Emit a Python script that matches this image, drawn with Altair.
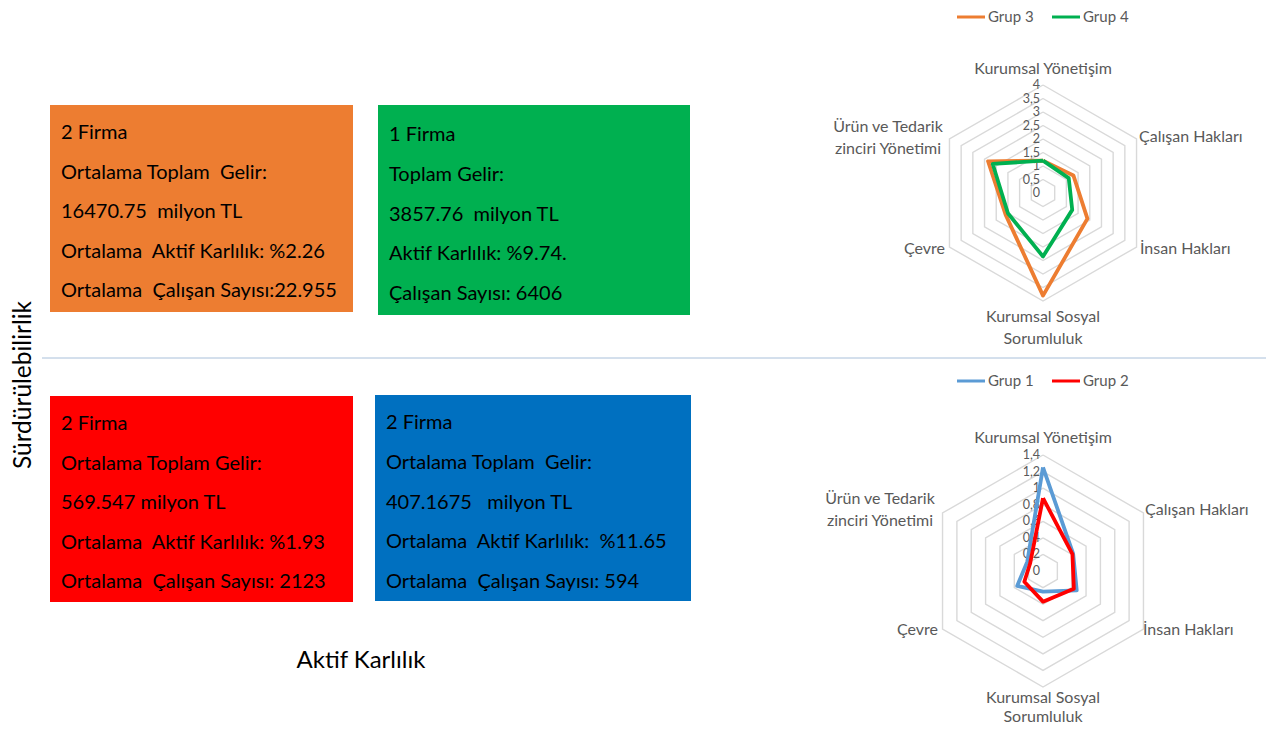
import altair as alt
import pandas as pd

# ---------------- data ----------------
categories = ["Kurumsal Yönetişim", "Çalışan Hakları", "İnsan Hakları",
              "Kurumsal Sosyal Sorumluluk", "Çevre", "Ürün ve Tedarik zinciri Yönetimi"]
grup3 = [1.2, 1.3, 1.9, 3.8, 1.6, 2.35]
grup4 = [1.2, 1.1, 1.25, 2.35, 1.5, 2.15]
grup1 = [1.25, 0.42, 0.47, 0.25, 0.36, 0.22]
grup2 = [0.88, 0.41, 0.43, 0.37, 0.26, 0.18]

ticks_top = [0, 0.5, 1, 1.5, 2, 2.5, 3, 3.5, 4]
tick_labels_top = ["0", "0,5", "1", "1,5", "2", "2,5", "3", "3,5", "4"]
ticks_bot = [0, 0.2, 0.4, 0.6, 0.8, 1.0, 1.2, 1.4]
tick_labels_bot = ["0", "0,2", "0,4", "0,6", "0,8", "1", "1,2", "1,4"]

box_orange = ["2 Firma", "Ortalama Toplam  Gelir:", "16470.75  milyon TL",
              "Ortalama  Aktif Karlılık: %2.26", "Ortalama  Çalışan Sayısı:22.955"]
box_green = ["1 Firma", "Toplam Gelir:", "3857.76  milyon TL",
             "Aktif Karlılık: %9.74.", "Çalışan Sayısı: 6406"]
box_red = ["2 Firma", "Ortalama Toplam Gelir:", "569.547 milyon TL",
           "Ortalama  Aktif Karlılık: %1.93", "Ortalama  Çalışan Sayısı: 2123"]
box_blue = ["2 Firma", "Ortalama Toplam  Gelir:", "407.1675   milyon TL",
            "Ortalama  Aktif Karlılık:  %11.65", "Ortalama  Çalışan Sayısı: 594"]

x_title = "Aktif Karlılık"
y_title = "Sürdürülebilirlik"

# ---------------- helpers ----------------
FONT = "Lato"
GRAY = "#595959"
XS = alt.Scale(domain=[8, 1266], nice=False, zero=False)
YS = alt.Scale(domain=[8, 725], nice=False, zero=False, reverse=True)


def keep_spaces(s):
    return s.replace("  ", "\u00a0\u00a0")


def X(f):
    return alt.X(f, type="quantitative", scale=XS, axis=None)


def Y(f):
    return alt.Y(f, type="quantitative", scale=YS, axis=None)


layers = []


def box(lines, color, x0, x1, y0, y1, tx, ty0, dy):
    rect = alt.Chart(pd.DataFrame({"x": [x0], "x2": [x1], "y": [y0], "y2": [y1]})).mark_rect(
        color=color).encode(x=X("x"), x2=alt.X2("x2"), y=Y("y"), y2=alt.Y2("y2"))
    df = pd.DataFrame({"t": [keep_spaces(s) for s in lines], "i": list(range(len(lines)))})
    txt = alt.Chart(df).mark_text(align="left", baseline="middle", font=FONT, fontSize=20,
                                  color="#000000").transform_calculate(
        px=str(tx), py=f"{ty0} + datum.i * {dy}").encode(x=X("px"), y=Y("py"), text="t:N")
    layers.extend([rect, txt])


box(box_orange, "#ED7D31", 50, 353, 105, 312, 61, 133, 39.5)
box(box_green, "#00B050", 378, 690, 105, 315, 389, 135, 39.8)
box(box_red, "#FF0000", 50, 353, 396, 602, 61, 424, 39.5)
box(box_blue, "#0070C0", 375, 691, 395, 601, 386, 423, 39.8)

# divider
layers.append(alt.Chart(pd.DataFrame({"a": [0]})).mark_rule(color="#A9C0DA", strokeWidth=1).encode(
    x=alt.value(42 - 8), x2=alt.value(1266 - 8), y=alt.value(358 - 8)))

# axis titles
layers.append(alt.Chart(pd.DataFrame({"t": [y_title]})).mark_text(
    angle=270, align="center", baseline="middle", font=FONT, fontSize=24.5, color="#000000").encode(
    x=alt.value(24 - 8), y=alt.value(385 - 8), text="t:N"))
layers.append(alt.Chart(pd.DataFrame({"t": [x_title]})).mark_text(
    align="center", baseline="middle", font=FONT, fontSize=24, color="#000000").encode(
    x=alt.value(361 - 8), y=alt.value(661 - 8), text="t:N"))


def radar(cx, cy, R, vmax, ticks, tick_labels, series, colors, names, label_spec, legend_y):
    # rings
    rows = []
    for t in ticks[1:]:
        for j in range(7):
            rows.append({"ring": t, "k": j % 6, "o": j, "v": t})
    ang = "PI/2 - datum.k*PI/3"
    calc = dict(px=f"{cx} + datum.v/{vmax}*{R}*cos({ang})",
                py=f"{cy} - datum.v/{vmax}*{R}*sin({ang})")
    layers.append(alt.Chart(pd.DataFrame(rows)).mark_line(color="#D9D9D9", strokeWidth=1.4).transform_calculate(
        **calc).encode(x=X("px"), y=Y("py"), detail="ring:N", order="o:Q"))
    # tick labels
    layers.append(alt.Chart(pd.DataFrame({"v": ticks, "lab": tick_labels})).mark_text(
        align="right", baseline="middle", font=FONT, fontSize=12.5, color=GRAY).transform_calculate(
        px=f"{cx - 3}", py=f"{cy} - datum.v/{vmax}*{R}").encode(x=X("px"), y=Y("py"), text="lab:N"))
    # series
    for vals, col, nm in zip(series, colors, names):
        rr = [{"k": j % 6, "o": j, "v": vals[j % 6], "s": nm} for j in range(7)]
        layers.append(alt.Chart(pd.DataFrame(rr)).mark_line(
            color=col, strokeWidth=3.8, strokeJoin="round").transform_calculate(**calc).encode(
            x=X("px"), y=Y("py"), order="o:Q"))
    # category labels
    for (lines, lx, ly, al, lh) in label_spec:
        df = pd.DataFrame({"t": lines, "i": list(range(len(lines)))})
        layers.append(alt.Chart(df).mark_text(align=al, baseline="middle", font=FONT, fontSize=16,
                                              color=GRAY).transform_calculate(
            px=str(lx), py=f"{ly} + datum.i*{lh}").encode(x=X("px"), y=Y("py"), text="t:N"))
    # legend
    for idx, (col, nm) in enumerate(zip(colors, names)):
        x0 = 957 + idx * 95
        layers.append(alt.Chart(pd.DataFrame({"a": [0]})).mark_rule(color=col, strokeWidth=3).encode(
            x=alt.value(x0 - 8), x2=alt.value(x0 + 28 - 8), y=alt.value(legend_y - 8)))
        layers.append(alt.Chart(pd.DataFrame({"t": [nm]})).mark_text(
            align="left", baseline="middle", font=FONT, fontSize=15, color=GRAY).encode(
            x=alt.value(x0 + 31 - 8), y=alt.value(legend_y - 8), text="t:N"))


radar(1043, 193, 108, 4, ticks_top, tick_labels_top, [grup3, grup4], ["#ED7D31", "#00B050"],
      ["Grup 3", "Grup 4"],
      [([categories[0]], 1043, 69, "center", 21.5),
       ([categories[1]], 1139, 137, "left", 21.5),
       ([categories[2]], 1140, 249, "left", 21.5),
       (["Kurumsal Sosyal", "Sorumluluk"], 1043, 317, "center", 21.5),
       ([categories[4]], 945, 249, "right", 21.5),
       (["Ürün ve Tedarik", "zinciri Yönetimi"], 888, 127, "center", 21.5)],
      17)

radar(1043, 571, 116, 1.4, ticks_bot, tick_labels_bot, [grup1, grup2], ["#5B9BD5", "#FF0000"],
      ["Grup 1", "Grup 2"],
      [([categories[0]], 1043, 438, "center", 21.5),
       ([categories[1]], 1145, 510, "left", 21.5),
       ([categories[2]], 1143, 630, "left", 21.5),
       (["Kurumsal Sosyal", "Sorumluluk"], 1043, 698, "center", 18.5),
       ([categories[4]], 938, 630, "right", 21.5),
       (["Ürün ve Tedarik", "zinciri Yönetimi"], 880, 499, "center", 21.5)],
      381)

chart = alt.layer(*layers).properties(
    width=1258, height=717, padding=0,
    autosize=alt.AutoSizeParams(type="none"),
    background="#FFFFFF",
).configure_view(stroke=None)

chart.save("out.html", embed_options={"renderer": "svg", "actions": False})
